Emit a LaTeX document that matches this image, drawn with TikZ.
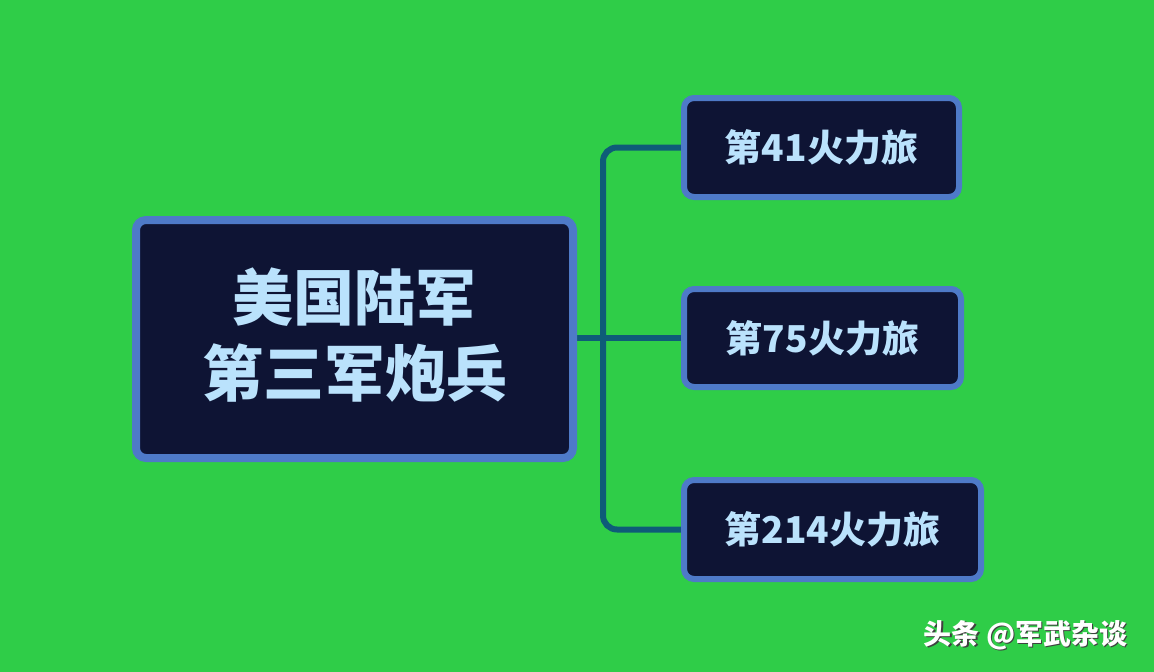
\documentclass[tikz,border=0pt]{standalone}
\usepackage{fontspec}
\usepackage{tikz}
\newfontfamily\cjkheavy{Noto Sans CJK SC Black}
\definecolor{bggreen}{RGB}{47,205,72}
\definecolor{boxfill}{RGB}{14,20,52}
\definecolor{boxline}{RGB}{78,122,200}
\definecolor{boxtext}{RGB}{186,226,252}
\definecolor{linkteal}{RGB}{14,92,120}
\pgfdeclarelayer{bg}
\pgfdeclarelayer{links}
\pgfsetlayers{bg,links,main}
\tikzset{
  unitbox/.style={draw=boxline, fill=boxfill, rounded corners=10pt, inner sep=0pt,
    text=boxtext, align=center},
  bdebox/.style={unitbox, line width=6pt, minimum height=99pt,
    font=\cjkheavy\fontsize{37}{44}\selectfont},
  link/.style={draw=linkteal, line width=6pt, rounded corners=14pt}
}

\begin{document}
\begin{tikzpicture}[x=1pt,y=-1pt]
\useasboundingbox (0,0) rectangle (1154,672);
% background:
\begin{pgfonlayer}{bg}
\path[fill=bggreen] (0,0) rectangle (1154,672);
\end{pgfonlayer}
% boxes:
\node[unitbox, line width=8pt, minimum width=437pt, minimum height=238pt,
  label={[text=boxtext, align=center, yshift=4pt,
    font=\cjkheavy\fontsize{61}{76}\selectfont]center:美国陆军\\第三军炮兵}]
  (army) at (354.5,339) {};
\node[bdebox, minimum width=275pt] (bde41) at (821.5,147.5) {第41火力旅};
\node[bdebox, minimum width=277pt, minimum height=98pt] (bde75) at (822.5,338) {第75火力旅};
\node[bdebox, minimum width=297pt] (bde214) at (832.5,529.5) {第214火力旅};
% connectors:
\coordinate (fork) at (603,338);
\begin{pgfonlayer}{links}
\path[link] (army.east |- fork) -- (bde75.west);
\path[link] (bde41.west) -| (fork) |- (bde214.west);
\end{pgfonlayer}
% watermark:
\node[anchor=east, text=black!75, font=\cjkheavy\fontsize{28}{32}\selectfont]
  at (1132.5,636.5) {头条 @军武杂谈};
\node[anchor=east, text=white, font=\cjkheavy\fontsize{28}{32}\selectfont] (mark)
  at (1131,635) {头条 @军武杂谈};
\end{tikzpicture}
\end{document}
